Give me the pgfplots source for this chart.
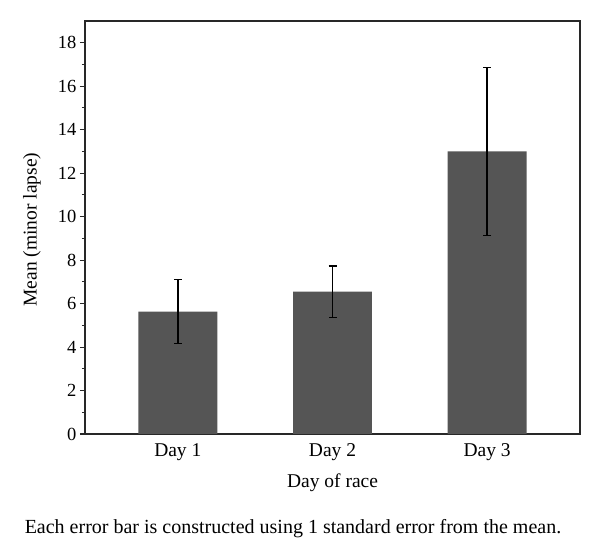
\documentclass[border=0pt]{standalone}
\usepackage{pgfplots}
\pgfplotsset{compat=1.18}
\usepackage{fontspec}
\setmainfont{Liberation Serif}
\definecolor{barc}{RGB}{85,85,85}
\definecolor{axc}{RGB}{40,40,40}
\begin{document}
\begin{tikzpicture}
\useasboundingbox (0,0) rectangle (600bp,560bp);
\begin{axis}[
  at={(85bp,126bp)}, anchor=south west,
  scale only axis, width=495bp, height=413bp,
  xmin=-0.6, xmax=2.6, ymin=0, ymax=19,
  xtick={0,1,2}, xticklabels={Day 1,Day 2,Day 3},
  major x tick style={draw=none},
  ytick={0,2,...,18}, minor ytick={1,3,...,17},
  tick align=outside, ytick pos=left, xtick pos=bottom,
  major tick length=5bp, minor tick length=3bp,
  axis line style={axc, line width=1.5bp},
  tick style={axc, line width=1.1bp},
  /pgf/number format/assume math mode=true,
  yticklabel style={font=\fontsize{18.5bp}{22bp}\selectfont, text=black},
  xticklabel style={font=\fontsize{19.5bp}{23bp}\selectfont, text=black, yshift=-1bp},
  xlabel style={font=\fontsize{19.5bp}{23bp}\selectfont, text=black, at={(axis description cs:0.5,-0.1186)}, anchor=center},
  ylabel style={font=\fontsize{19.5bp}{23bp}\selectfont, text=black, at={(axis description cs:-0.107,0.495)}, anchor=center, rotate=0},
  xlabel={Day of race},
  ylabel={Mean (minor lapse)},
]
\addplot[ybar, bar width=0.51, fill=barc, draw=none,
  error bars/.cd, y dir=both, y explicit,
  error bar style={black, line width=1.8bp},
  error mark options={rotate=90, mark size=4bp, line width=1.6bp, black}]
  coordinates {(0,5.63) +- (0,1.47) (1,6.55) +- (0,1.19) (2,13.0) +- (0,3.86)};
\end{axis}
\node[font=\fontsize{20bp}{24bp}\selectfont, anchor=base] at (293bp,27bp) {Each error bar is constructed using 1 standard error from the mean.};
\end{tikzpicture}
\end{document}
